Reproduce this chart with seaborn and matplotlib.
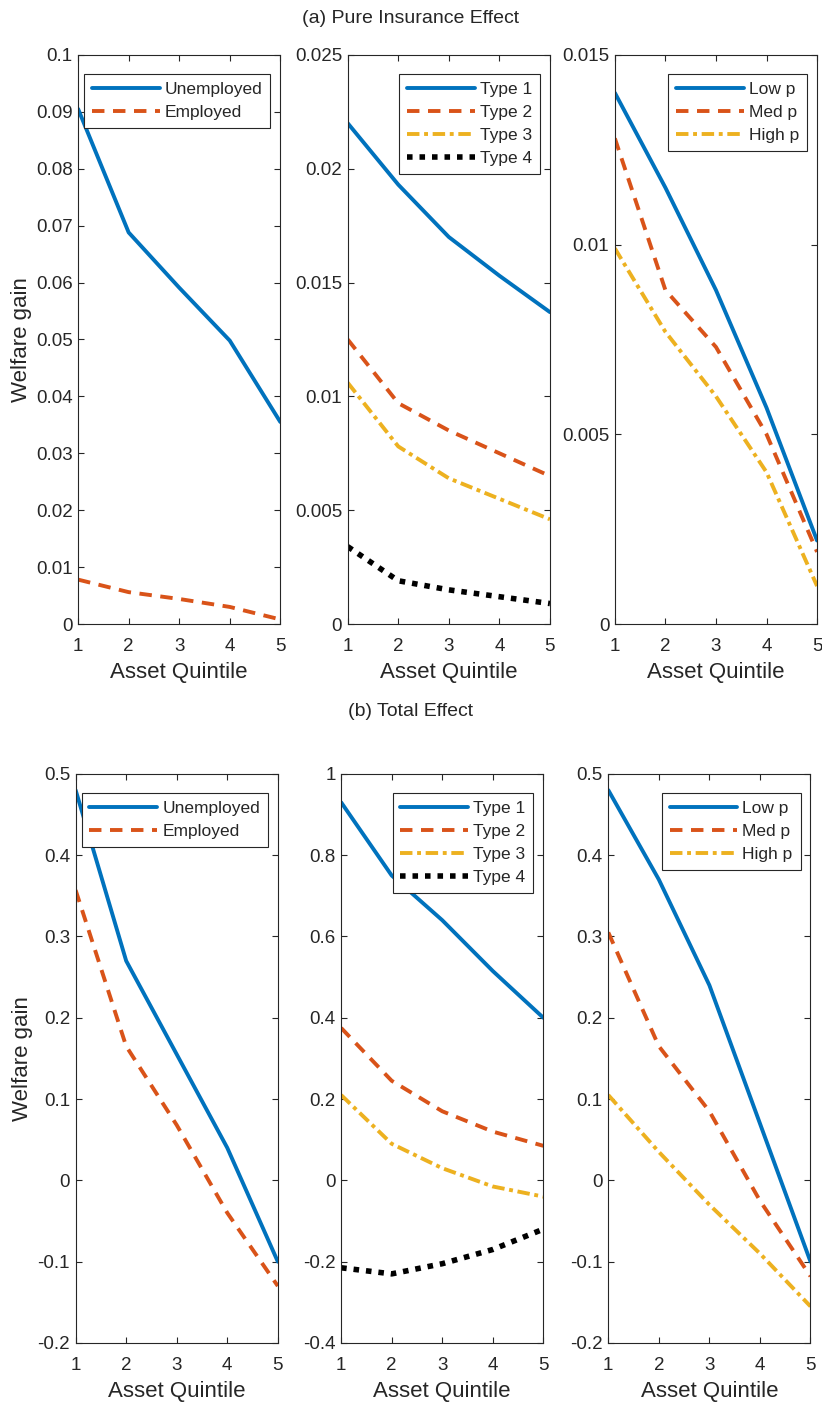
import numpy as np
import pandas as pd
import seaborn as sns
import matplotlib
matplotlib.use('Agg')
import matplotlib.pyplot as plt
from matplotlib.ticker import FuncFormatter

# Data
quintile = [1, 2, 3, 4, 5]

# (a) Pure insurance effect
a_unemployed = [0.0905, 0.0688, 0.0591, 0.0498, 0.0355]
a_employed = [0.0078, 0.0056, 0.0044, 0.0030, 0.0008]
a_type1 = [0.0220, 0.0193, 0.0170, 0.0153, 0.0137]
a_type2 = [0.0125, 0.0097, 0.0085, 0.0075, 0.0065]
a_type3 = [0.0106, 0.0078, 0.0064, 0.0055, 0.0046]
a_type4 = [0.0034, 0.0019, 0.0015, 0.0012, 0.0009]
a_lowp = [0.0140, 0.0115, 0.0088, 0.0057, 0.0022]
a_medp = [0.0128, 0.0088, 0.0073, 0.0050, 0.0019]
a_highp = [0.0099, 0.0077, 0.0060, 0.0040, 0.0010]

# (b) Total effect
b_unemployed = [0.480, 0.270, 0.155, 0.040, -0.100]
b_employed = [0.357, 0.165, 0.068, -0.040, -0.130]
b_type1 = [0.930, 0.750, 0.640, 0.515, 0.400]
b_type2 = [0.375, 0.245, 0.170, 0.120, 0.085]
b_type3 = [0.210, 0.090, 0.030, -0.015, -0.040]
b_type4 = [-0.215, -0.230, -0.205, -0.170, -0.120]
b_lowp = [0.480, 0.370, 0.240, 0.070, -0.100]
b_medp = [0.305, 0.165, 0.085, -0.025, -0.118]
b_highp = [0.105, 0.035, -0.030, -0.090, -0.155]

emp_labels = ['Unemployed', 'Employed']
type_labels = ['Type 1', 'Type 2', 'Type 3', 'Type 4']
p_labels = ['Low p', 'Med p', 'High p']

sns.set_style('ticks')
plt.rcParams['font.family'] = ['Liberation Sans', 'DejaVu Sans']
plt.rcParams['axes.edgecolor'] = '#262626'
plt.rcParams['xtick.color'] = '#262626'
plt.rcParams['ytick.color'] = '#262626'
plt.rcParams['text.color'] = '#262626'
plt.rcParams['axes.labelcolor'] = '#262626'

colors = ['#0072BD', '#D95319', '#EDB120', '#000000']
dashes = [None, (3.2, 2.2), (3.2, 1.2, 1.0, 1.2), (1.0, 1.25)]

fig = plt.figure(figsize=(8.22, 14.07), dpi=100)

top_lefts = [0.095, 0.423, 0.748]
bot_lefts = [0.092, 0.415, 0.740]
w = 0.246
h = 0.4045

panels = [
    (top_lefts[0], 0.5565, [a_unemployed, a_employed], emp_labels, (0, 0.1), np.arange(0, 0.1001, 0.01)),
    (top_lefts[1], 0.5565, [a_type1, a_type2, a_type3, a_type4], type_labels, (0, 0.025), np.arange(0, 0.02501, 0.005)),
    (top_lefts[2], 0.5565, [a_lowp, a_medp, a_highp], p_labels, (0, 0.015), [0, 0.005, 0.01, 0.015]),
    (bot_lefts[0], 0.0455, [b_unemployed, b_employed], emp_labels, (-0.2, 0.5), np.arange(-0.2, 0.501, 0.1)),
    (bot_lefts[1], 0.0455, [b_type1, b_type2, b_type3, b_type4], type_labels, (-0.4, 1.0), np.arange(-0.4, 1.001, 0.2)),
    (bot_lefts[2], 0.0455, [b_lowp, b_medp, b_highp], p_labels, (-0.2, 0.5), np.arange(-0.2, 0.501, 0.1)),
]

fmt = FuncFormatter(lambda v, pos: '%g' % round(v, 6))

for i, (left, bottom, series, labels, ylim, yticks) in enumerate(panels):
    ax = fig.add_axes([left, bottom, w, h])
    for j, (vals, lab) in enumerate(zip(series, labels)):
        df = pd.DataFrame({'q': quintile, 'v': vals})
        sns.lineplot(data=df, x='q', y='v', ax=ax, color=colors[j], lw=2.8, label=lab)
        ln = ax.lines[-1]
        if dashes[j] is not None:
            ln.set_dashes(dashes[j])
        if j == 3:
            ln.set_linewidth(4.0)
            ln.set_dash_capstyle('butt')
    ax.set_xlim(1, 5)
    ax.set_ylim(*ylim)
    ax.set_xticks(quintile)
    ax.set_yticks(yticks)
    ax.yaxis.set_major_formatter(fmt)
    ax.tick_params(direction='in', top=True, right=True, labelsize=13.5, length=4.5, width=0.8)
    ax.tick_params(axis='x', pad=10)
    ax.tick_params(axis='y', pad=4)
    for s in ax.spines.values():
        s.set_linewidth(0.8)
    ax.set_xlabel('Asset Quintile', fontsize=16, labelpad=5)
    if i % 3 == 0:
        ax.set_ylabel('Welfare gain', fontsize=16, labelpad=3)
    else:
        ax.set_ylabel('')
    leg = ax.legend(loc='upper right', bbox_to_anchor=(1 - 10 / 203, 1 - 19 / 569),
                    borderaxespad=0, fontsize=12.5, handlelength=3.9, frameon=True,
                    fancybox=False, edgecolor='#262626', framealpha=1,
                    labelspacing=0.45, handletextpad=0.3, borderpad=0.45)
    leg.get_frame().set_linewidth(0.8)

fig.text(0.5, 0.987, '(a) Pure Insurance Effect', ha='center', va='center', fontsize=14)
fig.text(0.5, 0.494, '(b) Total Effect', ha='center', va='center', fontsize=14)

fig.savefig('out.png', dpi=100)
